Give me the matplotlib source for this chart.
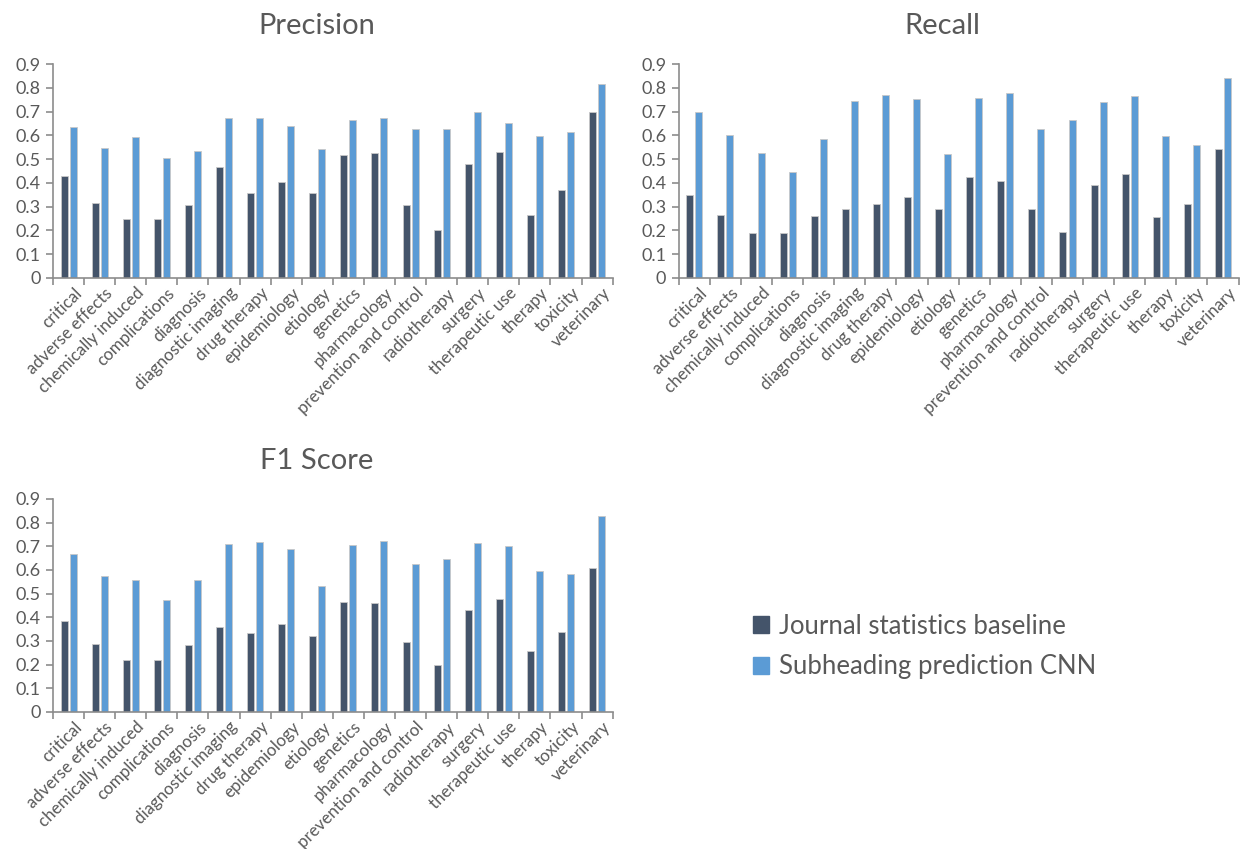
import matplotlib.pyplot as plt
import matplotlib.transforms as mtransforms
from matplotlib.patches import Patch
import numpy as np

plt.rcParams['font.family'] = ['Lato', 'DejaVu Sans']

categories = ['critical', 'adverse effects', 'chemically induced', 'complications',
              'diagnosis', 'diagnostic imaging', 'drug therapy', 'epidemiology',
              'etiology', 'genetics', 'pharmacology', 'prevention and control',
              'radiotherapy', 'surgery', 'therapeutic use', 'therapy', 'toxicity',
              'veterinary']

# Journal statistics baseline
prec_base = [0.43, 0.314, 0.25, 0.25, 0.305, 0.467, 0.356, 0.404, 0.359,
             0.519, 0.527, 0.307, 0.202, 0.478, 0.53, 0.266, 0.37, 0.698]
rec_base = [0.349, 0.264, 0.19, 0.19, 0.26, 0.288, 0.311, 0.34, 0.288,
            0.426, 0.406, 0.288, 0.193, 0.391, 0.436, 0.255, 0.311, 0.543]
f1_base = [0.386, 0.289, 0.219, 0.219, 0.281, 0.36, 0.334, 0.372, 0.322,
           0.465, 0.459, 0.296, 0.197, 0.431, 0.477, 0.258, 0.338, 0.607]

# Subheading prediction CNN
prec_cnn = [0.636, 0.547, 0.595, 0.503, 0.532, 0.671, 0.671, 0.64, 0.541,
            0.663, 0.674, 0.625, 0.625, 0.697, 0.65, 0.596, 0.613, 0.816]
rec_cnn = [0.698, 0.602, 0.525, 0.446, 0.585, 0.745, 0.768, 0.752, 0.522,
           0.755, 0.78, 0.627, 0.665, 0.74, 0.765, 0.596, 0.56, 0.841]
f1_cnn = [0.667, 0.574, 0.558, 0.475, 0.558, 0.708, 0.718, 0.69, 0.533,
          0.704, 0.721, 0.625, 0.645, 0.714, 0.701, 0.594, 0.583, 0.827]

dark = '#44546A'
light = '#5B9BD5'
axis_gray = '#8C8C8C'
text_gray = '#595959'

fig = plt.figure(figsize=(12.41, 8.49), dpi=100)
# nudge the slanted category labels to the right of their tick
shift = mtransforms.ScaledTranslation(5 / 100, 0, fig.dpi_scale_trans)

def draw(rect, title, base, cnn):
    ax = fig.add_axes(rect)
    x = np.arange(len(categories))
    w = 0.225
    ax.bar(x - 0.145, base, w, color=dark, edgecolor='#C8C8C8', linewidth=0.6)
    ax.bar(x + 0.145, cnn, w, color=light, edgecolor='#C8C8C8', linewidth=0.6)
    ax.set_xlim(-0.5, len(categories) - 0.5)
    ax.set_ylim(0, 0.9)
    ax.set_yticks(np.arange(0, 0.91, 0.1))
    ax.set_yticklabels(['0'] + ['%.1f' % v for v in np.arange(0.1, 0.91, 0.1)])
    ax.set_xticks(x)
    ax.set_xticklabels(categories, rotation=45, ha='right', va='top',
                       rotation_mode='anchor')
    ax.set_xticks(np.arange(-0.5, len(categories)), minor=True)
    ax.tick_params(axis='x', which='major', length=0, pad=5,
                   labelsize=12.2, labelcolor=text_gray)
    ax.tick_params(axis='x', which='minor', length=5, width=1.2, color=axis_gray)
    ax.tick_params(axis='y', length=5, width=1.2, color=axis_gray,
                   labelsize=13, labelcolor=text_gray, pad=4)
    for lab in ax.get_xticklabels():
        lab.set_transform(lab.get_transform() + shift)
    for s in ['top', 'right']:
        ax.spines[s].set_visible(False)
    for s in ['left', 'bottom']:
        ax.spines[s].set_color(axis_gray)
        ax.spines[s].set_linewidth(1.2)
    ax.text(0.471, 1.18, title, transform=ax.transAxes, ha='center',
            va='center', fontsize=21, color=text_gray)
    return ax

draw([0.0427, 0.6726, 0.451, 0.252], 'Precision', prec_base, prec_cnn)
draw([0.547, 0.6726, 0.451, 0.252], 'Recall', rec_base, rec_cnn)
draw([0.0427, 0.1614, 0.451, 0.251], 'F1 Score', f1_base, f1_cnn)

handles = [Patch(color=dark), Patch(color=light)]
fig.legend(handles, ['Journal statistics baseline', 'Subheading prediction CNN'],
           loc='center left', bbox_to_anchor=(0.607, 0.2385), frameon=False,
           fontsize=18.5, labelcolor=text_gray, handlelength=0.6, handleheight=0.6,
           labelspacing=0.62, handletextpad=0.4, borderpad=0, borderaxespad=0)

fig.savefig('out.png', dpi=100)
